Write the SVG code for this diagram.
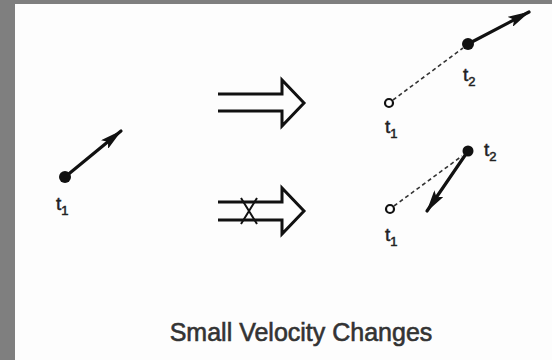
<svg xmlns="http://www.w3.org/2000/svg" width="552" height="360" viewBox="0 0 552 360">
<style>
.lbl{font-family:"Liberation Sans",Arial,sans-serif;font-size:19px;fill:#222;stroke:#222;stroke-width:0.5}
.sub{font-size:13px}
.vec{stroke:#111;stroke-width:3.2;stroke-linecap:round;fill:none}
.dash{stroke:#333;stroke-width:1.6;stroke-dasharray:4 3;fill:none}
.imp{stroke:#111;stroke-width:3;fill:none;stroke-linejoin:miter}
.dot{fill:#111}
.open{fill:#fff;stroke:#111;stroke-width:2.2}
.cap{font-family:"Liberation Sans",Arial,sans-serif;font-size:25px;fill:#333;stroke:#333;stroke-width:0.6}
</style>
<defs>
<marker id="ah" viewBox="0 0 20 10" refX="19" refY="5" markerWidth="7" markerHeight="3.5" orient="auto" markerUnits="strokeWidth">
<path d="M0,0 L20,5 L0,10 L4,5 Z" fill="#111"/>
</marker>
</defs>
<rect x="0" y="0" width="552" height="360" fill="#7f7f7f"/>
<rect x="15" y="4" width="537" height="356" fill="#fdfdfd"/>
<g id="initial">
<circle class="dot" cx="65" cy="177" r="6"/>
<text class="lbl" x="56" y="210">t<tspan class="sub" dy="5">1</tspan></text>
</g>
<g id="implies">
<path class="imp" d="M218,94 H282 V80 L304,103 L282,126 V111 H218"/>
</g>
<g id="not-implies">
<path class="imp" d="M218,202 H282 V188 L304,211 L282,234 V220 H218"/>
<path stroke="#111" stroke-width="2" fill="none" d="M241,198 L257,224 M257,198 L241,224"/>
</g>
<g id="result-top">
<circle class="open" cx="389" cy="103" r="4"/>
<circle class="dot" cx="468" cy="44" r="6"/>
<text class="lbl" x="385" y="133">t<tspan class="sub" dy="5">1</tspan></text>
<text class="lbl" x="463" y="81">t<tspan class="sub" dy="5">2</tspan></text>
</g>
<g id="result-bottom">
<circle class="open" cx="390" cy="209" r="4"/>
<circle class="dot" cx="468" cy="151" r="5.5"/>
<text class="lbl" x="385" y="241">t<tspan class="sub" dy="5">1</tspan></text>
<text class="lbl" x="484" y="156">t<tspan class="sub" dy="5">2</tspan></text>
</g>
<g id="connectors">
<line class="vec" x1="65" y1="177" x2="121" y2="131" marker-end="url(#ah)"/>
<line class="vec" x1="468" y1="44" x2="529" y2="12" marker-end="url(#ah)"/>
<line class="vec" x1="468" y1="151" x2="427" y2="211" marker-end="url(#ah)"/>
<line class="dash" x1="393" y1="100" x2="463" y2="48"/>
<line class="dash" x1="394" y1="206" x2="462" y2="156"/>
</g>
<text class="cap" x="301" y="341" text-anchor="middle">Small Velocity Changes</text>
</svg>
